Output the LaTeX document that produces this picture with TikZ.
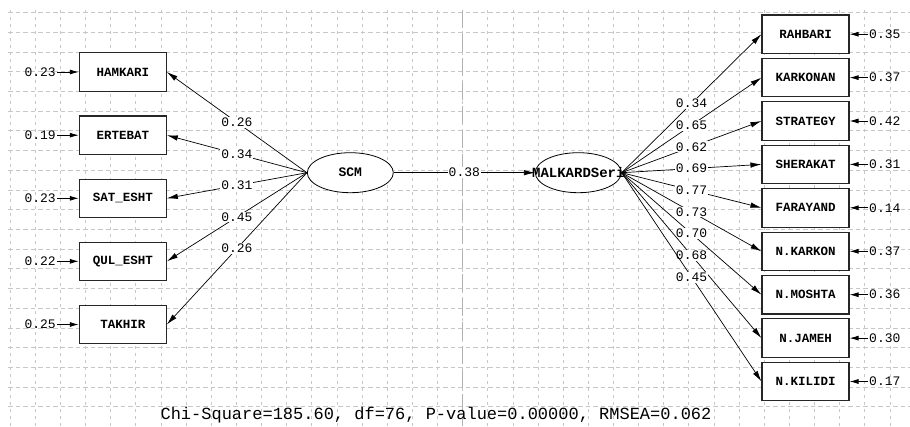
\documentclass[tikz,border=0pt]{standalone}
\usepackage{fontspec}
\setmonofont{Liberation Mono}
\usetikzlibrary{arrows.meta,shapes.geometric}
\begin{document}
\begin{tikzpicture}[x=1pt,y=-1pt,
  gridh/.style={draw=black!22, line width=0.6pt, dash pattern=on 4.5pt off 3pt},
  gridv/.style={draw=black!22, line width=0.6pt, dash pattern=on 3pt off 4pt},
  gridc/.style={draw=black!30, line width=0.9pt, dash pattern=on 18pt off 6pt},
  obs/.style={rectangle, draw=black!85, line width=1.1pt, fill=white, minimum width=87pt, minimum height=38.5pt, inner sep=0pt, font=\ttfamily\bfseries\fontsize{12.5}{14}\selectfont},
  lat/.style={ellipse, draw=black, line width=0.8pt, fill=white, minimum width=86pt, minimum height=40pt, inner sep=0pt, font=\ttfamily\bfseries\fontsize{13}{15}\selectfont},
  lnk/.style={draw=black, line width=0.7pt, -{Latex[length=11pt,width=5.5pt]}},
  coef/.style={fill=white, inner sep=1pt, font=\ttfamily\fontsize{13}{15}\selectfont},
  errl/.style={inner sep=1pt, font=\ttfamily\fontsize{13}{15}\selectfont},
  erra/.style={draw=black, line width=0.8pt, -{Latex[length=9pt,width=5pt]}},
  fitt/.style={inner sep=0pt, font=\ttfamily\fontsize{17}{20}\selectfont}
]
\useasboundingbox[fill=white] (0,0) rectangle (910,426);
% grid
\foreach \k in {0,...,20} \draw[gridh] (8,{12.5+19.71*\k}) -- (910,{12.5+19.71*\k});
\foreach \k in {0,...,35} \draw[gridv] ({10+25.14*\k},10) -- ({10+25.14*\k},426);
\draw[gridc] (462.8,10) -- (462.8,426);

% latent variables
\node[lat] (scm) at (350.3,172.7) {SCM};
\node[lat] (mal) at (578.3,172.7) {\makebox[0pt]{\fontsize{14}{16}\selectfont MALKARDSeri}};

% left observed
\node[obs] (hamkari) at (122.8,72) {HAMKARI};
\node[obs] (ertebat) at (122.8,135.2) {ERTEBAT};
\node[obs] (satesht) at (122.8,198.3) {SAT\_ESHT};
\node[obs] (qulesht) at (122.8,261.3) {QUL\_ESHT};
\node[obs] (takhir) at (122.8,324.5) {TAKHIR};

% right observed
\node[obs] (rahbari) at (805.5,34.2) {RAHBARI};
\node[obs] (karkonan) at (805.5,77.6) {KARKONAN};
\node[obs] (strategy) at (805.5,121.0) {STRATEGY};
\node[obs] (sherakat) at (805.5,164.4) {SHERAKAT};
\node[obs] (farayand) at (805.5,207.8) {FARAYAND};
\node[obs] (nkarkon) at (805.5,251.3) {N.KARKON};
\node[obs] (nmoshta) at (805.5,294.7) {N.MOSHTA};
\node[obs] (njameh) at (805.5,338.1) {N.JAMEH};
\node[obs] (nkilidi) at (805.5,381.5) {N.KILIDI};

% left error terms
\node[errl, anchor=east] (e1) at (57,72) {0.23};
\node[errl, anchor=east] (e2) at (57,135.2) {0.19};
\node[errl, anchor=east] (e3) at (57,198.3) {0.23};
\node[errl, anchor=east] (e4) at (57,261.3) {0.22};
\node[errl, anchor=east] (e5) at (57,324.5) {0.25};
\draw[erra] (e1.east) -- (hamkari.west);
\draw[erra] (e2.east) -- (ertebat.west);
\draw[erra] (e3.east) -- (satesht.west);
\draw[erra] (e4.east) -- (qulesht.west);
\draw[erra] (e5.east) -- (takhir.west);

% right error terms
\node[errl, anchor=west] (r1) at (868,34.2) {0.35};
\node[errl, anchor=west] (r2) at (868,77.6) {0.37};
\node[errl, anchor=west] (r3) at (868,121.0) {0.42};
\node[errl, anchor=west] (r4) at (868,164.4) {0.31};
\node[errl, anchor=west] (r5) at (868,207.8) {0.14};
\node[errl, anchor=west] (r6) at (868,251.3) {0.37};
\node[errl, anchor=west] (r7) at (868,294.7) {0.36};
\node[errl, anchor=west] (r8) at (868,338.1) {0.30};
\node[errl, anchor=west] (r9) at (868,381.5) {0.17};
\draw[erra] (r1.west) -- (rahbari.east);
\draw[erra] (r2.west) -- (karkonan.east);
\draw[erra] (r3.west) -- (strategy.east);
\draw[erra] (r4.west) -- (sherakat.east);
\draw[erra] (r5.west) -- (farayand.east);
\draw[erra] (r6.west) -- (nkarkon.east);
\draw[erra] (r7.west) -- (nmoshta.east);
\draw[erra] (r8.west) -- (njameh.east);
\draw[erra] (r9.west) -- (nkilidi.east);

% loadings SCM
\draw[lnk] (scm.west) -- node[coef]{0.26} (hamkari.east);
\draw[lnk] (scm.west) -- node[coef]{0.34} (ertebat.east);
\draw[lnk] (scm.west) -- node[coef]{0.31} (satesht.east);
\draw[lnk] (scm.west) -- node[coef]{0.45} (qulesht.east);
\draw[lnk] (scm.west) -- node[coef]{0.26} (takhir.east);

% structural path
\draw[lnk] (scm.east) -- node[coef]{0.38} (mal.west);

% loadings MALKARDSeri
\draw[lnk] (mal.east) -- node[coef]{0.34} (rahbari.west);
\draw[lnk] (mal.east) -- node[coef]{0.65} (karkonan.west);
\draw[lnk] (mal.east) -- node[coef]{0.62} (strategy.west);
\draw[lnk] (mal.east) -- node[coef]{0.69} (sherakat.west);
\draw[lnk] (mal.east) -- node[coef]{0.77} (farayand.west);
\draw[lnk] (mal.east) -- node[coef]{0.73} (nkarkon.west);
\draw[lnk] (mal.east) -- node[coef]{0.70} (nmoshta.west);
\draw[lnk] (mal.east) -- node[coef]{0.68} (njameh.west);
\draw[lnk] (mal.east) -- node[coef]{0.45} (nkilidi.west);

% fit statistics
\node[fitt, anchor=base] (fit) at (436,419.5) {Chi-Square=185.60, df=76, P-value=0.00000, RMSEA=0.062};
\end{tikzpicture}
\end{document}
